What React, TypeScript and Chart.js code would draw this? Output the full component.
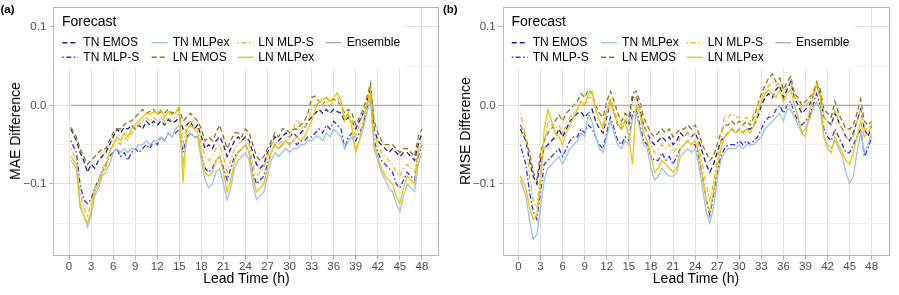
import React, { useEffect, useRef } from "react";
import { Chart, registerables } from "chart.js";

Chart.register(...registerables);

// ---------- data ----------
const leadTime = [
  0.25, 1, 1.5, 2, 2.5, 3, 3.5, 4, 4.5, 5, 5.5, 6, 6.5, 7, 7.5, 8, 8.5, 9, 9.5, 10,
  10.5, 11, 11.5, 12, 12.5, 13, 13.5, 14, 14.5, 15, 15.5, 16, 16.5, 17, 17.5, 18, 18.5, 19, 19.5, 20,
  20.5, 21, 21.5, 22, 22.5, 23, 23.5, 24, 24.5, 25, 25.5, 26, 26.5, 27, 27.5, 28, 28.5, 29, 29.5, 30,
  30.5, 31, 31.5, 32, 32.5, 33, 33.5, 34, 34.5, 35, 35.5, 36, 36.5, 37, 37.5, 38, 38.5, 39, 39.5, 40,
  40.5, 41, 41.5, 42, 42.5, 43, 43.5, 44, 44.5, 45, 45.5, 46, 46.5, 47, 47.5, 48,
];
const ensembleHours = [0.25, 48];
const ensembleDiff = [0, 0];

const xTickValues = [0, 3, 6, 9, 12, 15, 18, 21, 24, 27, 30, 33, 36, 39, 42, 45, 48];
const yTickValues = [-0.15, -0.1, -0.05, 0, 0.05, 0.1];

const seriesNames = ["TN EMOS", "TN MLP-S", "TN MLPex", "LN EMOS", "LN MLP-S", "LN MLPex", "Ensemble"];

// (a) MAE difference
const maeTnEmos = [
  -0.030,-0.045,-0.060,-0.070,-0.085,-0.075,-0.080,-0.070,-0.065,-0.060,
  -0.050,-0.040,-0.030,-0.035,-0.028,-0.030,-0.025,-0.030,-0.025,-0.030,
  -0.020,-0.025,-0.020,-0.025,-0.020,-0.025,-0.018,-0.022,-0.020,-0.015,
  -0.030,-0.025,-0.020,-0.030,-0.025,-0.040,-0.055,-0.050,-0.055,-0.045,
  -0.040,-0.050,-0.065,-0.055,-0.045,-0.040,-0.045,-0.040,-0.045,-0.060,
  -0.075,-0.080,-0.075,-0.060,-0.050,-0.040,-0.045,-0.040,-0.035,-0.040,
  -0.035,-0.040,-0.035,-0.030,-0.020,-0.015,-0.010,-0.005,-0.010,-0.005,
  -0.010,-0.005,-0.008,-0.010,-0.020,-0.015,-0.020,-0.030,-0.020,-0.010,
  0.005,0.020,-0.030,-0.045,-0.050,-0.055,-0.060,-0.055,-0.060,-0.065,
  -0.060,-0.060,-0.065,-0.070,-0.050,-0.035,
];
const maeTnMlpS = [
  -0.045,-0.060,-0.100,-0.120,-0.125,-0.120,-0.105,-0.095,-0.085,-0.075,
  -0.065,-0.060,-0.055,-0.065,-0.060,-0.070,-0.060,-0.055,-0.060,-0.055,
  -0.050,-0.055,-0.045,-0.050,-0.040,-0.045,-0.035,-0.040,-0.035,-0.030,
  -0.060,-0.040,-0.035,-0.040,-0.040,-0.065,-0.080,-0.085,-0.080,-0.070,
  -0.065,-0.080,-0.095,-0.080,-0.065,-0.060,-0.055,-0.050,-0.060,-0.085,
  -0.100,-0.095,-0.090,-0.075,-0.060,-0.050,-0.055,-0.050,-0.045,-0.050,
  -0.045,-0.050,-0.045,-0.045,-0.040,-0.040,-0.035,-0.030,-0.035,-0.025,
  -0.030,-0.020,-0.025,-0.030,-0.055,-0.040,-0.035,-0.045,-0.035,-0.025,
  -0.005,0.010,-0.045,-0.060,-0.070,-0.075,-0.080,-0.085,-0.100,-0.105,
  -0.095,-0.085,-0.090,-0.095,-0.065,-0.050,
];
const maeTnMlpEx = [
  -0.070,-0.080,-0.130,-0.140,-0.155,-0.140,-0.115,-0.105,-0.090,-0.085,
  -0.075,-0.060,-0.055,-0.060,-0.055,-0.060,-0.055,-0.055,-0.050,-0.050,
  -0.045,-0.050,-0.045,-0.045,-0.040,-0.045,-0.035,-0.040,-0.030,-0.025,
  -0.075,-0.045,-0.035,-0.040,-0.040,-0.070,-0.095,-0.105,-0.100,-0.085,
  -0.080,-0.100,-0.120,-0.105,-0.080,-0.070,-0.065,-0.060,-0.070,-0.100,
  -0.120,-0.115,-0.110,-0.090,-0.070,-0.060,-0.065,-0.060,-0.055,-0.060,
  -0.055,-0.055,-0.050,-0.050,-0.045,-0.045,-0.040,-0.040,-0.045,-0.035,
  -0.040,-0.030,-0.035,-0.040,-0.055,-0.045,-0.040,-0.055,-0.045,-0.030,
  -0.010,0.008,-0.055,-0.070,-0.085,-0.095,-0.105,-0.110,-0.125,-0.135,
  -0.115,-0.100,-0.105,-0.110,-0.075,-0.060,
];
const maeLnEmos = [
  -0.028,-0.040,-0.055,-0.065,-0.075,-0.070,-0.065,-0.060,-0.055,-0.055,
  -0.045,-0.035,-0.030,-0.030,-0.025,-0.020,-0.020,-0.015,-0.010,-0.005,
  -0.010,-0.008,-0.005,-0.012,-0.008,-0.010,-0.005,-0.010,-0.008,-0.005,
  -0.020,-0.015,-0.010,-0.015,-0.020,-0.030,-0.045,-0.040,-0.045,-0.035,
  -0.025,-0.040,-0.055,-0.045,-0.035,-0.035,-0.040,-0.030,-0.035,-0.050,
  -0.065,-0.070,-0.065,-0.055,-0.045,-0.035,-0.040,-0.030,-0.030,-0.035,
  -0.030,-0.030,-0.025,-0.020,-0.010,0.010,0.012,0.005,0.000,0.010,
  0.005,0.008,0.005,0.000,-0.010,-0.005,-0.010,-0.025,-0.015,-0.005,
  0.010,0.028,-0.020,-0.035,-0.045,-0.050,-0.050,-0.050,-0.055,-0.060,
  -0.055,-0.055,-0.060,-0.065,-0.040,-0.030,
];
const maeLnMlpS = [
  -0.055,-0.070,-0.110,-0.130,-0.140,-0.125,-0.105,-0.095,-0.080,-0.075,
  -0.060,-0.050,-0.045,-0.050,-0.040,-0.045,-0.035,-0.030,-0.025,-0.020,
  -0.015,-0.020,-0.015,-0.020,-0.015,-0.020,-0.015,-0.020,-0.015,-0.010,
  -0.050,-0.025,-0.020,-0.025,-0.030,-0.050,-0.065,-0.070,-0.065,-0.055,
  -0.050,-0.065,-0.085,-0.070,-0.055,-0.050,-0.045,-0.045,-0.050,-0.075,
  -0.090,-0.085,-0.080,-0.065,-0.050,-0.045,-0.050,-0.045,-0.040,-0.040,
  -0.030,-0.018,-0.025,-0.030,-0.020,-0.005,0.000,0.005,0.000,0.005,
  0.000,0.005,0.010,0.000,-0.015,-0.010,-0.020,-0.040,-0.025,-0.010,
  0.005,0.020,-0.035,-0.050,-0.060,-0.065,-0.070,-0.075,-0.085,-0.090,
  -0.080,-0.075,-0.080,-0.085,-0.055,-0.045,
];
const maeLnMlpEx = [
  -0.065,-0.075,-0.125,-0.140,-0.150,-0.135,-0.110,-0.100,-0.085,-0.080,
  -0.060,-0.050,-0.040,-0.045,-0.035,-0.040,-0.030,-0.025,-0.020,-0.015,
  -0.010,-0.012,-0.008,-0.010,-0.005,-0.015,-0.008,-0.012,-0.010,0.000,
  -0.098,-0.030,-0.025,-0.030,-0.035,-0.060,-0.085,-0.090,-0.085,-0.070,
  -0.065,-0.085,-0.110,-0.095,-0.070,-0.060,-0.055,-0.050,-0.060,-0.090,
  -0.110,-0.105,-0.100,-0.080,-0.060,-0.050,-0.055,-0.050,-0.045,-0.050,
  -0.045,-0.040,-0.045,-0.040,-0.030,-0.020,-0.005,0.005,0.008,0.010,
  0.005,0.010,0.016,0.005,-0.020,-0.010,-0.030,-0.060,-0.045,-0.020,
  0.000,0.015,-0.050,-0.065,-0.080,-0.090,-0.095,-0.100,-0.115,-0.125,
  -0.105,-0.090,-0.095,-0.100,-0.060,-0.050,
];

// (b) RMSE difference
const rmseTnEmos = [
  -0.030,-0.045,-0.070,-0.090,-0.100,-0.070,-0.055,-0.050,-0.045,-0.040,
  -0.030,-0.040,-0.030,-0.020,-0.015,-0.010,-0.008,-0.015,-0.010,-0.005,
  -0.020,-0.030,-0.035,-0.015,0.005,-0.010,-0.025,-0.030,-0.020,-0.025,
  0.010,0.012,-0.005,-0.025,-0.035,-0.045,-0.050,-0.045,-0.040,-0.045,
  -0.040,-0.050,-0.045,-0.035,-0.040,-0.035,-0.040,-0.035,-0.045,-0.060,
  -0.075,-0.085,-0.075,-0.060,-0.045,-0.040,-0.035,-0.030,-0.035,-0.030,
  -0.035,-0.030,-0.030,-0.025,-0.015,0.000,0.010,0.015,0.010,0.020,
  0.025,0.010,0.020,0.030,0.010,0.000,-0.010,-0.005,0.000,0.010,
  0.028,0.015,-0.015,-0.020,-0.025,-0.010,-0.020,-0.030,-0.040,-0.045,
  -0.035,-0.020,-0.005,-0.030,-0.040,-0.025,
];
const rmseTnMlpS = [
  -0.050,-0.075,-0.110,-0.135,-0.145,-0.110,-0.075,-0.070,-0.065,-0.060,
  -0.055,-0.065,-0.055,-0.045,-0.040,-0.040,-0.030,-0.035,-0.025,-0.030,
  -0.040,-0.050,-0.055,-0.035,-0.015,-0.030,-0.045,-0.050,-0.040,-0.045,
  -0.010,-0.005,-0.025,-0.045,-0.050,-0.065,-0.070,-0.070,-0.060,-0.070,
  -0.065,-0.075,-0.065,-0.055,-0.050,-0.045,-0.050,-0.050,-0.065,-0.090,
  -0.120,-0.140,-0.115,-0.085,-0.065,-0.055,-0.050,-0.050,-0.050,-0.045,
  -0.050,-0.045,-0.050,-0.045,-0.040,-0.030,-0.020,-0.015,-0.015,-0.005,
  0.000,-0.010,0.000,0.005,-0.010,-0.020,-0.025,-0.020,-0.015,0.000,
  0.015,0.000,-0.030,-0.040,-0.045,-0.030,-0.040,-0.050,-0.060,-0.060,
  -0.050,-0.040,-0.030,-0.065,-0.055,-0.040,
];
const rmseTnMlpEx = [
  -0.095,-0.115,-0.145,-0.170,-0.165,-0.130,-0.095,-0.080,-0.075,-0.070,
  -0.065,-0.075,-0.065,-0.055,-0.050,-0.045,-0.035,-0.040,-0.010,-0.020,
  -0.040,-0.055,-0.060,-0.040,-0.020,-0.035,-0.050,-0.055,-0.045,-0.050,
  -0.015,-0.010,-0.030,-0.050,-0.055,-0.080,-0.095,-0.090,-0.080,-0.085,
  -0.090,-0.090,-0.085,-0.065,-0.060,-0.055,-0.060,-0.055,-0.075,-0.105,
  -0.135,-0.150,-0.130,-0.095,-0.070,-0.060,-0.055,-0.055,-0.055,-0.050,
  -0.055,-0.050,-0.050,-0.050,-0.045,-0.040,-0.030,-0.025,-0.020,-0.015,
  -0.010,-0.020,-0.005,-0.005,-0.015,-0.025,-0.035,-0.030,-0.020,-0.005,
  0.005,-0.005,-0.040,-0.050,-0.055,-0.045,-0.055,-0.065,-0.085,-0.100,
  -0.090,-0.060,-0.035,-0.060,-0.050,-0.035,
];
const rmseLnEmos = [
  -0.025,-0.040,-0.060,-0.085,-0.095,-0.060,-0.045,-0.035,-0.030,-0.020,
  -0.012,-0.020,-0.010,-0.005,0.000,0.005,0.015,0.010,0.020,0.015,
  0.000,-0.010,-0.015,0.005,0.018,0.005,-0.010,-0.020,-0.010,-0.015,
  0.015,0.018,0.005,-0.015,-0.025,-0.035,-0.040,-0.035,-0.030,-0.035,
  -0.030,-0.040,-0.035,-0.030,-0.030,-0.025,-0.030,-0.025,-0.035,-0.050,
  -0.060,-0.070,-0.065,-0.050,-0.035,-0.025,-0.025,-0.020,-0.025,-0.020,
  -0.025,-0.020,-0.025,-0.015,0.000,0.015,0.025,0.035,0.040,0.030,
  0.035,0.020,0.030,0.037,0.015,0.010,0.000,0.005,0.010,0.015,
  0.030,0.020,-0.005,-0.010,-0.015,0.005,-0.010,-0.020,-0.030,-0.030,
  -0.025,-0.010,0.008,-0.020,-0.025,-0.020,
];
const rmseLnMlpS = [
  -0.010,-0.040,-0.090,-0.120,-0.130,-0.090,-0.050,-0.020,-0.025,-0.030,
  -0.025,-0.035,-0.025,-0.015,-0.010,-0.005,0.005,0.000,0.010,0.010,
  -0.005,-0.020,-0.025,-0.005,0.010,-0.005,-0.020,-0.025,-0.015,-0.025,
  0.005,0.010,-0.005,-0.025,-0.035,-0.050,-0.060,-0.055,-0.050,-0.055,
  -0.050,-0.060,-0.055,-0.040,-0.040,-0.035,-0.040,-0.035,-0.050,-0.075,
  -0.100,-0.120,-0.100,-0.070,-0.045,-0.012,-0.015,-0.010,-0.015,-0.015,
  -0.020,-0.015,-0.020,-0.010,0.000,0.010,0.020,0.025,0.030,0.025,
  0.030,0.015,0.025,0.030,0.010,0.005,-0.005,0.000,0.005,0.015,
  0.028,0.015,-0.015,-0.020,-0.025,-0.005,-0.020,-0.030,-0.040,-0.045,
  -0.040,-0.020,-0.005,-0.030,-0.030,-0.020,
];
const rmseLnMlpEx = [
  -0.090,-0.105,-0.130,-0.145,-0.140,-0.100,-0.030,-0.005,-0.020,-0.035,
  -0.040,-0.050,-0.035,-0.025,-0.015,-0.005,0.005,0.000,0.015,0.018,
  -0.005,-0.020,-0.030,-0.010,0.005,-0.010,-0.025,-0.030,-0.020,-0.040,
  -0.075,0.000,-0.010,-0.035,-0.045,-0.065,-0.085,-0.080,-0.070,-0.075,
  -0.080,-0.085,-0.080,-0.055,-0.050,-0.045,-0.050,-0.045,-0.060,-0.090,
  -0.120,-0.135,-0.110,-0.080,-0.055,-0.040,-0.035,-0.030,-0.035,-0.030,
  -0.035,-0.030,-0.035,-0.025,-0.010,0.005,0.015,0.020,0.015,0.010,
  0.020,0.005,0.015,0.020,0.000,-0.015,-0.035,-0.040,-0.010,0.010,
  0.025,0.010,-0.040,-0.055,-0.060,-0.040,-0.050,-0.060,-0.070,-0.075,
  -0.060,-0.040,-0.020,-0.040,-0.035,-0.025,
];

// ---------- styling ----------
const FONT = '"Liberation Sans", Arial, Helvetica, sans-serif';
const DASHED = [5, 3];
const DOTDASH = [1.5, 2.5, 5, 2.5];
const seriesStyles = [
  { color: "#1E1E99", dash: DASHED },
  { color: "#2F2FF0", dash: DOTDASH },
  { color: "#A0C4D8", dash: [] as number[] },
  { color: "#8A781A", dash: DASHED },
  { color: "#E2C02C", dash: DOTDASH },
  { color: "#F1C40C", dash: [] as number[] },
  { color: "#AEAEAE", dash: [] as number[] },
];

const isMajorY = (v: number) => Math.abs(v * 10 - Math.round(v * 10)) < 1e-6;
const fmtY = (v: number) => {
  if (Math.abs(v) < 1e-9) return "0.0";
  return v < 0 ? "\u2212" + Math.abs(v).toFixed(1) : v.toFixed(1);
};

const framePlugin = {
  id: "frame",
  afterDatasetsDraw(chart: any) {
    const { ctx, chartArea: a } = chart;
    ctx.save();
    ctx.strokeStyle = "#B3B3B3";
    ctx.lineWidth = 1;
    ctx.strokeRect(Math.round(a.left) + 0.5, Math.round(a.top) + 0.5, Math.round(a.right - a.left) - 1, Math.round(a.bottom - a.top) - 1);
    ctx.restore();
  },
};

const legendPlugin = {
  id: "ggLegend",
  beforeDatasetsDraw(chart: any) {
    const { ctx, chartArea: a } = chart;
    const L = a.left;
    const T = a.top;
    ctx.save();
    ctx.fillStyle = "#FFFFFF";
    ctx.fillRect(L + 1, T + 1, 351, 60);
    ctx.fillStyle = "#000000";
    ctx.textBaseline = "middle";
    ctx.textAlign = "left";
    ctx.font = `14px ${FONT}`;
    ctx.fillText("Forecast", L + 8.7, T + 14.7);
    const colText = [30, 119.4, 205, 293.4];
    const rowY = [35.7, 50.3];
    ctx.font = `12px ${FONT}`;
    seriesNames.forEach((name, i) => {
      const col = Math.floor(i / 2);
      const row = i % 2;
      const tx = L + colText[col];
      const ty = T + rowY[row];
      const st = seriesStyles[i];
      ctx.beginPath();
      ctx.strokeStyle = st.color;
      ctx.lineWidth = 1.4;
      ctx.setLineDash(st.dash);
      ctx.moveTo(tx - 21, ty);
      ctx.lineTo(tx - 5, ty);
      ctx.stroke();
      ctx.setLineDash([]);
      ctx.fillStyle = "#000000";
      ctx.fillText(name, tx, ty);
    });
    ctx.restore();
  },
};

function buildConfig(series: number[][], yAxisWidth: number, rightPad: number): any {
  const datasets: any[] = series.map((vals, i) => ({
    label: seriesNames[i],
    data: leadTime.map((x, j) => ({ x, y: vals[j] })),
    borderColor: seriesStyles[i].color,
    borderDash: seriesStyles[i].dash,
    borderWidth: 1.3,
    pointRadius: 0,
    tension: 0,
    fill: false,
    order: 10 - i,
  }));
  datasets.push({
    label: seriesNames[6],
    data: ensembleHours.map((x, j) => ({ x, y: ensembleDiff[j] })),
    borderColor: seriesStyles[6].color,
    borderWidth: 1.3,
    pointRadius: 0,
    fill: false,
    order: 1,
  });
  return {
    type: "line",
    data: { datasets },
    options: {
      animation: false,
      responsive: false,
      maintainAspectRatio: false,
      layout: { padding: { top: 7, right: rightPad, left: 0, bottom: 0 } },
      plugins: { legend: { display: false }, tooltip: { enabled: false }, title: { display: false } },
      scales: {
        x: {
          type: "linear",
          min: -2.14,
          max: 50.39,
          afterBuildTicks: (s: any) => {
            s.ticks = xTickValues.map((v) => ({ value: v }));
          },
          afterFit: (s: any) => {
            s.height = 39.3;
            s.paddingLeft = 0;
            s.paddingRight = 0;
          },
          border: { display: false },
          grid: { color: "#E3E3E3", lineWidth: 1, drawTicks: true, tickLength: 4, tickColor: "#B3B3B3" },
          ticks: {
            color: "#4D4D4D",
            font: { family: FONT, size: 11.5 },
            padding: 0,
            maxRotation: 0,
            autoSkip: false,
            callback: (v: any) => String(v),
          },
        },
        y: {
          type: "linear",
          min: -0.1913,
          max: 0.1253,
          afterBuildTicks: (s: any) => {
            s.ticks = yTickValues.map((v) => ({ value: v }));
          },
          afterFit: (s: any) => {
            s.width = yAxisWidth;
            s.paddingTop = 0;
            s.paddingBottom = 0;
          },
          border: { display: false },
          grid: {
            color: (c: any) => (c.tick && isMajorY(c.tick.value) ? "#E3E3E3" : "#F1F1F1"),
            lineWidth: 1,
            drawTicks: true,
            tickLength: 4,
            tickColor: (c: any) => (c.tick && isMajorY(c.tick.value) ? "#B3B3B3" : "rgba(0,0,0,0)"),
          },
          ticks: {
            color: "#4D4D4D",
            font: { family: FONT, size: 11.5 },
            padding: 3,
            autoSkip: false,
            callback: (v: any) => (isMajorY(Number(v)) ? fmtY(Number(v)) : ""),
          },
        },
      },
    },
    plugins: [legendPlugin, framePlugin],
  };
}

function PanelChart(props: { left: number; width: number; series: number[][]; yAxisWidth: number; rightPad: number }) {
  const ref = useRef<HTMLCanvasElement>(null);
  useEffect(() => {
    const chart = new Chart(ref.current as HTMLCanvasElement, buildConfig(props.series, props.yAxisWidth, props.rightPad));
    return () => chart.destroy();
  }, []);
  return (
    <canvas
      ref={ref}
      width={props.width}
      height={295}
      style={{ position: "absolute", left: props.left, top: 0, width: props.width, height: 295 }}
    />
  );
}

const textBase: React.CSSProperties = {
  position: "absolute",
  fontFamily: FONT,
  whiteSpace: "nowrap",
  lineHeight: 1,
  color: "#000",
};

export default function App() {
  const maeSeries = [maeTnEmos, maeTnMlpS, maeTnMlpEx, maeLnEmos, maeLnMlpS, maeLnMlpEx];
  const rmseSeries = [rmseTnEmos, rmseTnMlpS, rmseTnMlpEx, rmseLnEmos, rmseLnMlpS, rmseLnMlpEx];
  return (
    <div style={{ position: "fixed", left: 0, top: 0, width: 899, height: 295, background: "#fff", overflow: "hidden" }}>
      <PanelChart left={0} width={450} series={maeSeries} yAxisWidth={53.3} rightPad={10.5} />
      <PanelChart left={449} width={450} series={rmseSeries} yAxisWidth={53.7} rightPad={9.7} />
      <div style={{ ...textBase, left: 0.5, top: 4, fontSize: 11.5, fontWeight: "bold" }}>(a)</div>
      <div style={{ ...textBase, left: 443, top: 4, fontSize: 11.5, fontWeight: "bold" }}>(b)</div>
      <div style={{ ...textBase, left: 15, top: 131.3, fontSize: 14, transform: "translate(-50%, -50%) rotate(-90deg)" }}>
        MAE Difference
      </div>
      <div style={{ ...textBase, left: 464.5, top: 131.3, fontSize: 14, transform: "translate(-50%, -50%) rotate(-90deg)" }}>
        RMSE Difference
      </div>
      <div style={{ ...textBase, left: 246.4, top: 278.3, fontSize: 14, transform: "translate(-50%, -50%)" }}>
        Lead Time (h)
      </div>
      <div style={{ ...textBase, left: 696, top: 278.3, fontSize: 14, transform: "translate(-50%, -50%)" }}>
        Lead Time (h)
      </div>
    </div>
  );
}
